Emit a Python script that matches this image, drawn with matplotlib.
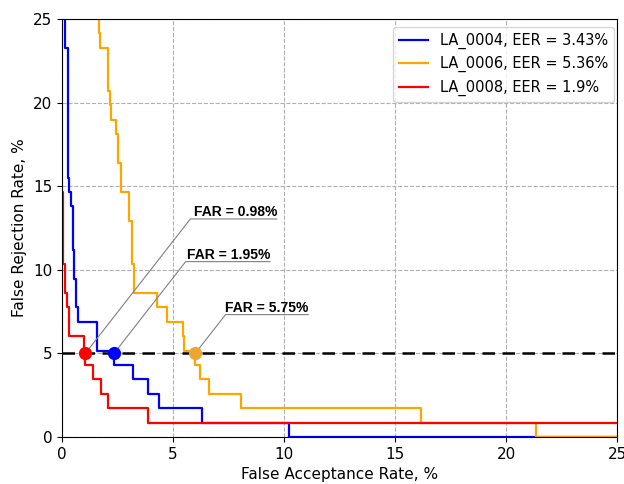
import matplotlib
matplotlib.use("Agg")
import matplotlib.pyplot as plt

# step vertices of each DET curve (FAR, FRR in %), the FRR value after each drop
la0004_far = [0.0, 0.15, 0.25, 0.33, 0.42, 0.48, 0.55, 0.63, 0.72, 1.58, 2.34, 3.19, 3.88, 4.38, 6.30, 10.23, 25.0]
la0004_frr = [100, 23.28, 15.52, 14.66, 13.79, 11.21, 9.48, 7.76, 6.90, 5.17, 4.31, 3.45, 2.59, 1.72, 0.86, 0.0, 0.0]

la0006_far = [1.60, 1.66, 1.73, 2.06, 2.15, 2.22, 2.41, 2.52, 2.67, 3.01, 3.14, 3.24, 4.30, 4.72, 5.43, 5.50,
              6.00, 6.21, 6.64, 8.06, 16.15, 21.33, 25.0]
la0006_frr = [100, 24.14, 23.28, 20.69, 19.83, 18.97, 18.10, 16.38, 14.66, 12.93, 10.34, 8.62, 7.76, 6.90, 6.03, 5.17,
              4.31, 3.45, 2.59, 1.72, 0.86, 0.0, 0.0]

la0008_far = [0.0, 0.06, 0.13, 0.21, 0.30, 0.98, 1.05, 1.39, 1.75, 2.08, 3.86, 25.0]
la0008_frr = [14.66, 10.34, 8.62, 7.76, 6.03, 5.17, 4.31, 3.45, 2.59, 1.72, 0.86, 0.86]

names = ["LA_0004", "LA_0006", "LA_0008"]
eers = [3.43, 5.36, 1.9]
colors = ["blue", "orange", "red"]
dot_colors = ["blue", "#eca631", "red"]

# operating points at FRR = 5 %
frr_level = 5.0
op_far = [2.34, 6.00, 1.05]
op_labels = ["FAR = 1.95%", "FAR = 5.75%", "FAR = 0.98%"]
label_pos = [(5.62, 10.49), (7.34, 7.32), (5.93, 13.04)]

fig = plt.figure(figsize=(6.24, 4.84), dpi=100)
ax = fig.add_axes([0.0994, 0.0971, 0.8894, 0.8636])

curves = [(la0004_far, la0004_frr), (la0006_far, la0006_frr), (la0008_far, la0008_frr)]
for (far, frr), name, eer, c in zip(curves, names, eers, colors):
    ax.plot(far, frr, drawstyle="steps-post", color=c, lw=1.6,
            label=f"{name}, EER = {eer}%")

ax.axhline(frr_level, color="black", lw=1.8, dashes=(5, 3), zorder=3)

for x, c, txt, pos in zip(op_far, dot_colors, op_labels, label_pos):
    ax.plot(x, frr_level, "o", color=c, ms=8.5, zorder=5)
    ax.annotate(txt, xy=(x, frr_level), xytext=pos, ha="left", va="bottom",
                fontsize=10, fontweight="bold", family="Liberation Sans",
                arrowprops=dict(arrowstyle="-", color="gray", lw=0.8, patchA=None,
                                connectionstyle="angle,angleA=0,angleB=52,rad=0",
                                shrinkA=0, shrinkB=0, relpos=(1, 0)))

ax.set_xlim(0, 25)
ax.set_ylim(0, 25)
ax.set_xticks([0, 5, 10, 15, 20, 25])
ax.set_yticks([0, 5, 10, 15, 20, 25])
ax.tick_params(labelsize=11)
ax.grid(True, ls="--", color="#b0b0b0", lw=0.8)
ax.set_xlabel("False Acceptance Rate, %", fontsize=11)
ax.set_ylabel("False Rejection Rate, %", fontsize=11)
ax.legend(loc="upper right", bbox_to_anchor=(1.0, 0.988), borderaxespad=0.2, fontsize=10.5)

fig.savefig("out.png", dpi=100)
